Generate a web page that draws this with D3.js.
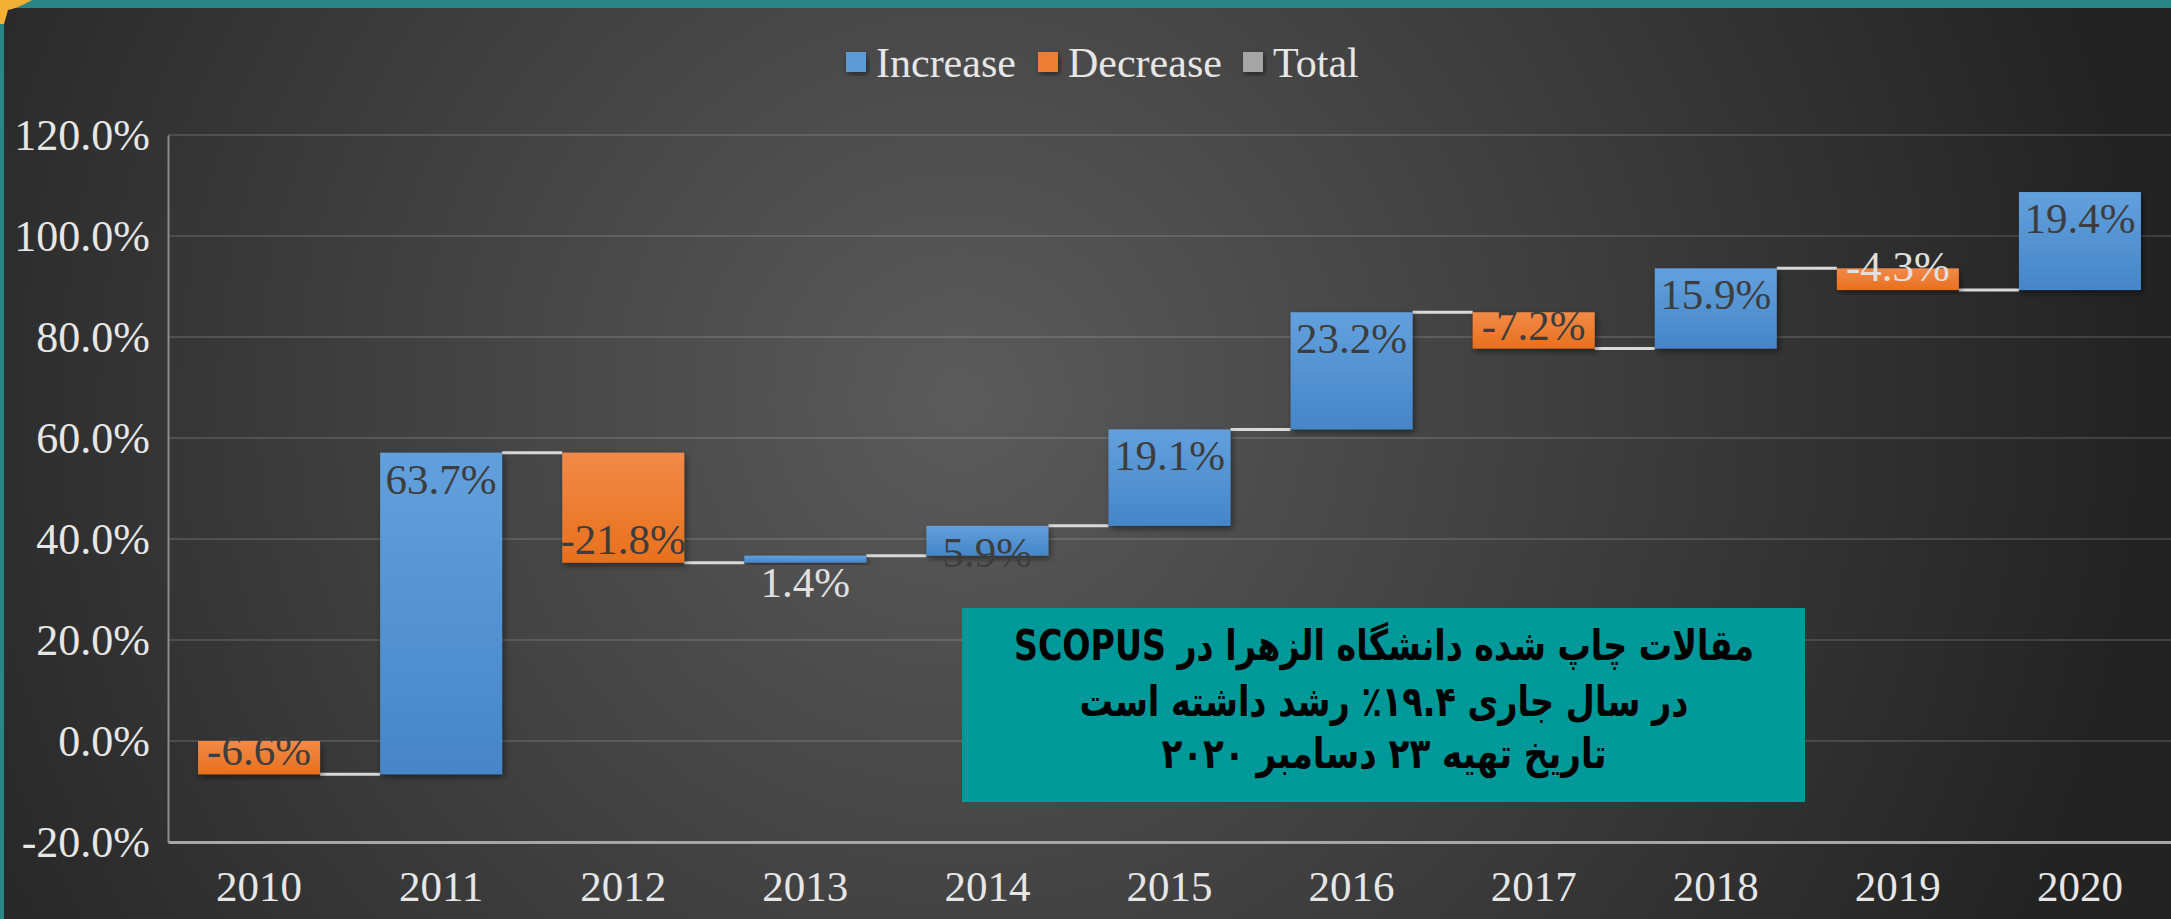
<!DOCTYPE html>
<html>
<head>
<meta charset="utf-8">
<script src="https://cdn.jsdelivr.net/npm/d3@7"></script>
<style>
  html, body { margin: 0; padding: 0; background: #262626; }
  svg { display: block; }
</style>
</head>
<body>
<div id="chart"></div>
<script>

var width = 2171;
var height = 919;

// data
var years = ["2010", "2011", "2012", "2013", "2014", "2015", "2016", "2017", "2018", "2019", "2020"];
var changes = [-6.6, 63.7, -21.8, 1.4, 5.9, 19.1, 23.2, -7.2, 15.9, -4.3, 19.4];
var yTicks = [-20, 0, 20, 40, 60, 80, 100, 120];
var legendNames = ["Increase", "Decrease", "Total"];
var noteLines = [
  "مقالات چاپ شده دانشگاه الزهرا در SCOPUS",
  "در سال جاری ۱۹.۴٪ رشد داشته است",
  "تاریخ تهیه ۲۳ دسامبر ۲۰۲۰"
];

var colors = { Increase: "#5b9bd5", Decrease: "#ed7d31", Total: "#a5a5a5" };

var ends = Array.from(d3.cumsum(changes));
var rows = years.map(function(y, i) {
  return {
    year: y,
    change: changes[i],
    start: i === 0 ? 0 : ends[i - 1],
    end: ends[i]
  };
});

var svg = d3.select("#chart")
  .append("svg")
    .attr("width", width)
    .attr("height", height);

var defs = svg.append("defs");

var bg = defs.append("radialGradient")
  .attr("id", "bg")
  .attr("gradientUnits", "userSpaceOnUse")
  .attr("cx", 960).attr("cy", 400).attr("r", 1180);
bg.append("stop").attr("offset", "0%").attr("stop-color", "#5b5b5b");
bg.append("stop").attr("offset", "100%").attr("stop-color", "#232323");

var gBlue = defs.append("linearGradient").attr("id", "gBlue")
  .attr("x1", 0).attr("y1", 0).attr("x2", 0).attr("y2", 1);
gBlue.append("stop").attr("offset", "0%").attr("stop-color", "#62a0dd");
gBlue.append("stop").attr("offset", "100%").attr("stop-color", "#4686c8");

var gOrange = defs.append("linearGradient").attr("id", "gOrange")
  .attr("x1", 0).attr("y1", 0).attr("x2", 0).attr("y2", 1);
gOrange.append("stop").attr("offset", "0%").attr("stop-color", "#f28a48");
gOrange.append("stop").attr("offset", "100%").attr("stop-color", "#e8701c");

defs.append("filter").attr("id", "shadow")
  .attr("x", "-20%").attr("y", "-20%").attr("width", "140%").attr("height", "140%")
  .append("feDropShadow")
    .attr("dx", 2).attr("dy", 3).attr("stdDeviation", 3)
    .attr("flood-color", "#000").attr("flood-opacity", 0.45);

// background + frame bits
svg.append("rect")
  .attr("width", width).attr("height", height)
  .attr("fill", "url(#bg)");
svg.append("rect")
  .attr("width", width).attr("height", 8)
  .attr("fill", "#2a8585");
svg.append("rect")
  .attr("width", 4).attr("height", height)
  .attr("fill", "#2a8585");
svg.append("path")
  .attr("d", "M0,0 L32,0 Q18,8 8,10 L4,24 L0,24 Z")
  .attr("fill", "#f2b134");

var x = d3.scaleBand()
  .domain(years)
  .range([168, 2171])
  .paddingInner(0.33)
  .paddingOuter(0.165);

var y = d3.scaleLinear()
  .domain([-20, 120])
  .range([842, 135]);

// gridlines
svg.append("g")
  .selectAll("line")
  .data(yTicks.filter(function(d) { return d > -20; }))
  .enter().append("line")
    .attr("x1", 168).attr("x2", width)
    .attr("y1", function(d) { return y(d); })
    .attr("y2", function(d) { return y(d); })
    .attr("stroke", "#ffffff")
    .attr("stroke-opacity", 0.13)
    .attr("stroke-width", 2);

// y axis
var yAxis = svg.append("g")
  .attr("transform", "translate(168,0)")
  .call(d3.axisLeft(y).tickValues(yTicks).tickSize(0).tickPadding(18)
    .tickFormat(function(d) { return d.toFixed(1) + "%"; }));
yAxis.select(".domain")
  .attr("stroke", "#8c8c8c").attr("stroke-width", 2);
yAxis.selectAll("text")
  .attr("font-family", "Liberation Serif, Times New Roman, serif")
  .attr("font-size", 44)
  .attr("fill", "#e6e6e6")
  .attr("dy", "0.34em");

// x axis
var xAxis = svg.append("g")
  .attr("transform", "translate(0,842)")
  .call(d3.axisBottom(x).tickSize(0).tickPadding(28));
xAxis.select(".domain")
  .attr("stroke", "#a6a6a6").attr("stroke-width", 3);
xAxis.selectAll("text")
  .attr("font-family", "Liberation Serif, Times New Roman, serif")
  .attr("font-size", 43)
  .attr("fill", "#e6e6e6")
  .attr("dy", "0.71em");

// connectors
svg.append("g")
  .selectAll("line")
  .data(rows.slice(0, -1))
  .enter().append("line")
    .attr("x1", function(d) { return x(d.year) + x.bandwidth(); })
    .attr("x2", function(d, i) { return x(years[i + 1]); })
    .attr("y1", function(d) { return y(d.end); })
    .attr("y2", function(d) { return y(d.end); })
    .attr("stroke", "#d9d9d9")
    .attr("stroke-width", 3);

// bars
svg.append("g")
  .selectAll("rect")
  .data(rows)
  .enter().append("rect")
    .attr("x", function(d) { return x(d.year); })
    .attr("width", x.bandwidth())
    .attr("y", function(d) { return y(Math.max(d.start, d.end)); })
    .attr("height", function(d) { return Math.abs(y(d.start) - y(d.end)); })
    .attr("fill", function(d) { return d.change >= 0 ? "url(#gBlue)" : "url(#gOrange)"; })
    .attr("filter", "url(#shadow)");

// value labels
svg.append("g")
  .selectAll("text")
  .data(rows)
  .enter().append("text")
    .attr("x", function(d) { return x(d.year) + x.bandwidth() / 2; })
    .attr("y", function(d) {
      return d.change >= 0 ? y(d.end) + 41 : y(d.end) - 9;
    })
    .attr("text-anchor", "middle")
    .attr("font-family", "Liberation Serif, Times New Roman, serif")
    .attr("font-size", 43)
    .attr("fill", function(d) {
      var h = Math.abs(y(d.start) - y(d.end));
      return h < 25 ? "#e0e0e0" : "#3d3d3d";
    })
    .text(function(d) { return d.change.toFixed(1) + "%"; });

// legend
var legend = svg.append("g");
var legendX = [846, 1038, 1243];
legendNames.forEach(function(name, i) {
  legend.append("rect")
    .attr("x", legendX[i]).attr("y", 52)
    .attr("width", 20).attr("height", 20)
    .attr("fill", colors[name])
    .attr("filter", "url(#shadow)");
  legend.append("text")
    .attr("x", legendX[i] + 30).attr("y", 77)
    .attr("font-family", "Liberation Serif, Times New Roman, serif")
    .attr("font-size", 42)
    .attr("fill", "#e6e6e6")
    .text(name);
});

// note box
svg.append("rect")
  .attr("x", 962).attr("y", 608)
  .attr("width", 843).attr("height", 194)
  .attr("fill", "#009999");

var noteBase = [660, 716, 768];
var noteWidth = [740, 609, 445];
noteLines.forEach(function(line, i) {
  svg.append("text")
    .attr("x", 1384).attr("y", noteBase[i])
    .attr("text-anchor", "middle")
    .attr("direction", "rtl")
    .attr("font-family", "DejaVu Sans, Noto Sans, sans-serif")
    .attr("font-weight", "bold")
    .attr("font-size", 42)
    .attr("textLength", noteWidth[i])
    .attr("lengthAdjust", "spacingAndGlyphs")
    .attr("fill", "#000")
    .text(line);
});

</script>
</body>
</html>
